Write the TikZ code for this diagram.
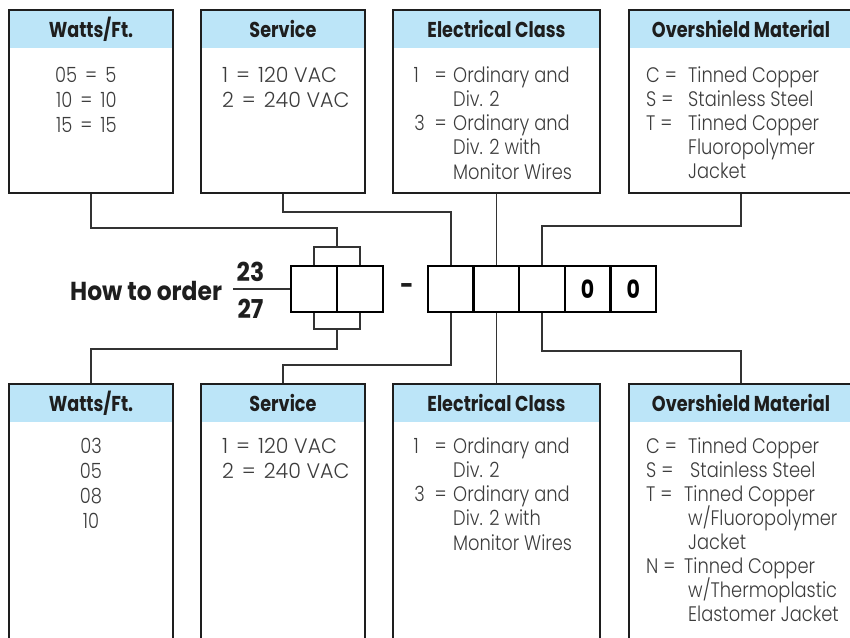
\documentclass[tikz,border=0pt]{standalone}
\usepackage{fontspec}
\setmainfont{Poppins}
\newfontfamily\hdrfont{Poppins}[FakeStretch=0.82]
\newfontfamily\htofont{Poppins}[FakeStretch=0.9]
\newfontfamily\bodyfont{Poppins Light}[FakeStretch=0.85]
\newfontfamily\bodywide{Poppins Light}[FakeStretch=0.98]
\definecolor{hdrblue}{HTML}{BCE5F8}
\definecolor{inkc}{HTML}{1E1E1E}
\definecolor{bodyc}{HTML}{3C3C3C}
\newcommand\eqsp{\hspace{8pt}=\hspace{8pt}}
\begin{document}
\begin{tikzpicture}[x=1pt,y=-1pt,
  hdrband/.style={fill=hdrblue, draw=none, minimum height=38pt, inner sep=0pt,
    font=\hdrfont\bfseries\fontsize{21.5}{24}\selectfont, text=inkc},
  frame/.style={draw=inkc, line width=2.6pt, inner sep=0pt},
  conn/.style={draw=black!80, line width=1.4pt},
  cell/.style={draw=black, line width=2.4pt, minimum width=45.6pt, minimum height=46pt, inner sep=0pt,
    font=\hdrfont\bfseries\fontsize{25}{26}\selectfont},
  body/.style={font=\bodyfont\fontsize{21}{24}\selectfont, text=bodyc, inner sep=0pt, anchor=base west},
  bodyw/.style={body, font=\bodywide\fontsize{21}{24}\selectfont},
  lbl/.style={body, anchor=base east},
  bigbold/.style={font=\htofont\bfseries\fontsize{26}{28}\selectfont, text=inkc, inner sep=0pt}
]
\useasboundingbox (0,0) rectangle (850,637);

% ---------- top boxes ----------
\node[hdrband, minimum width=164pt] (wth) at (91,29) {Watts/Ft.};
\node[frame, minimum width=164pt, minimum height=183pt] (wt) at (91,101.5) {};
\node[hdrband, minimum width=164pt] (sth) at (283,29) {Service};
\node[frame, minimum width=164pt, minimum height=183pt] (st) at (283,101.5) {};
\node[hdrband, minimum width=207pt] (eth) at (496.5,29) {Electrical Class};
\node[frame, minimum width=207pt, minimum height=183pt] (et) at (496.5,101.5) {};
\node[hdrband, minimum width=224pt] (oth) at (741,29) {Overshield Material};
\node[frame, minimum width=224pt, minimum height=183pt] (ot) at (741,101.5) {};

% ---------- bottom boxes ----------
\node[hdrband, minimum width=164pt] (wbh) at (91,403) {Watts/Ft.};
\node[frame, minimum width=164pt, minimum height=270pt] (wb) at (91,519) {};
\node[hdrband, minimum width=164pt] (sbh) at (283,403) {Service};
\node[frame, minimum width=164pt, minimum height=270pt] (sb) at (283,519) {};
\node[hdrband, minimum width=207pt] (ebh) at (496.5,403) {Electrical Class};
\node[frame, minimum width=207pt, minimum height=270pt] (eb) at (496.5,519) {};
\node[hdrband, minimum width=224pt] (obh) at (741,403) {Overshield Material};
\node[frame, minimum width=224pt, minimum height=270pt] (ob) at (741,519) {};

% ---------- top box texts ----------
\node[body] (wt1) at (55,82) {05\eqsp5};
\node[body] (wt2) at (56,107) {10\eqsp10};
\node[body] (wt3) at (56,132) {15\eqsp15};

\node[bodyw] (st1) at (222,82) {1\eqsp120 VAC};
\node[bodyw] (st2) at (222,107) {2\eqsp240 VAC};

\node[lbl] (et1a) at (447,82) {1\hspace{16pt}=};
\node[body] (et1) at (453,82) {Ordinary and};
\node[body] (et2) at (453,106.3) {Div. 2};
\node[lbl] (et3a) at (447,130.6) {3\hspace{10pt}=};
\node[body] (et3) at (453,130.6) {Ordinary and};
\node[body] (et4) at (453,154.9) {Div. 2 with};
\node[body] (et5) at (453,179.2) {Monitor Wires};

\node[body] (ot1a) at (646,82) {C =};
\node[body] (ot1) at (688,82) {Tinned Copper};
\node[body] (ot2a) at (646,106) {S =};
\node[body] (ot2) at (688,106) {Stainless Steel};
\node[body] (ot3a) at (646,130) {T =};
\node[body] (ot3) at (688,130) {Tinned Copper};
\node[body] (ot4) at (688,154) {Fluoropolymer};
\node[body] (ot5) at (688,178) {Jacket};

% ---------- bottom box texts ----------
\node[body, anchor=base] (wb1) at (91,453) {03};
\node[body, anchor=base] (wb2) at (91,478) {05};
\node[body, anchor=base] (wb3) at (91,503) {08};
\node[body, anchor=base] (wb4) at (91,528) {10};

\node[bodyw] (sb1) at (222,453) {1\eqsp120 VAC};
\node[bodyw] (sb2) at (222,478) {2\eqsp240 VAC};

\node[lbl] (eb1a) at (447,453) {1\hspace{16pt}=};
\node[body] (eb1) at (453,453) {Ordinary and};
\node[body] (eb2) at (453,477.3) {Div. 2};
\node[lbl] (eb3a) at (447,501.6) {3\hspace{10pt}=};
\node[body] (eb3) at (453,501.6) {Ordinary and};
\node[body] (eb4) at (453,525.9) {Div. 2 with};
\node[body] (eb5) at (453,550.2) {Monitor Wires};

\node[body] (ob1a) at (646,453) {C =};
\node[body] (ob1) at (688,453) {Tinned Copper};
\node[body] (ob2a) at (646,477) {S =};
\node[body] (ob2) at (690,477) {Stainless Steel};
\node[body] (ob3a) at (646,501) {T =};
\node[body] (ob3) at (684,501) {Tinned Copper};
\node[body] (ob4) at (688,525) {w/Fluoropolymer};
\node[body] (ob5) at (688,549) {Jacket};
\node[body] (ob6a) at (646,573) {N =};
\node[body] (ob6) at (684,573) {Tinned Copper};
\node[body] (ob7) at (688,597) {w/Thermoplastic};
\node[body] (ob8) at (688,621) {Elastomer Jacket};

% ---------- order code ----------
\node[bigbold, anchor=base west] (hto) at (70,300) {How to order};
\node[bigbold, anchor=base] (n23) at (250.5,281) {23};
\node[bigbold, anchor=base] (n27) at (250.5,318) {27};
\coordinate (fl) at (233,289);

\node[cell] (c1) at (314,289) {};
\node[cell] (c2) at (360,289) {};
\node[bigbold] (dash) at (407,289) {-};
\node[cell] (c3) at (450.8,289) {};
\node[cell] (c4) at (496.4,289) {};
\node[cell] (c5) at (542,289) {};
\node[cell] (c6) at (587.6,289) {0};
\node[cell] (c7) at (633.2,289) {0};

\draw[conn] (fl) -- (c1.west);

% ---------- connectors above ----------
\coordinate (bt) at (337,247);
\coordinate (j1) at (337,228);
\draw[conn] (wt.south) |- (j1) -- (bt);
\draw[conn] (c1.north) |- (bt) -| (c2.north);
\draw[conn] (st.south) |- (c3.north |- 0,212) -- (c3.north);
\draw[conn] (c4.north |- et.south) -- (c4.north);
\draw[conn] (ot.south) |- (c5.north |- 0,226) -- (c5.north);

% ---------- connectors below ----------
\coordinate (bb) at (337,329);
\coordinate (j5) at (337,349);
\draw[conn] (c1.south) |- (bb) -| (c2.south);
\draw[conn] (bb) -- (j5) -| (wb.north);
\draw[conn] (c3.south) |- (sb.north |- 0,365) -- (sb.north);
\draw[conn] (c4.south) -- (c4.south |- eb.north);
\draw[conn] (c5.south) |- (ob.north |- 0,351) -- (ob.north);
\end{tikzpicture}
\end{document}
